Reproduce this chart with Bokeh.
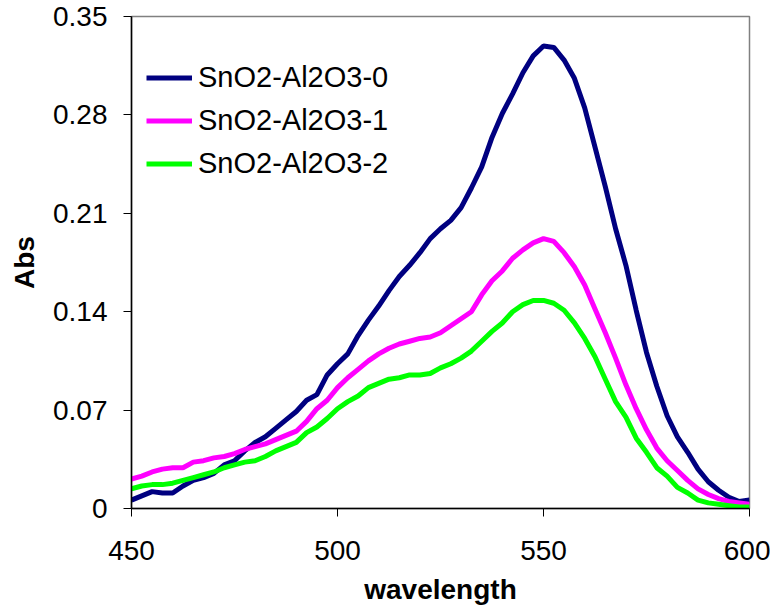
from bokeh.plotting import figure
from bokeh.models import Range1d, FixedTicker, Legend, LegendItem
from bokeh.embed import file_html
from bokeh.resources import INLINE

wavelength = [450, 452.5, 455, 457.5, 460, 462.5, 465, 467.5, 470, 472.5,
              475, 477.5, 480, 482.5, 485, 487.5, 490, 492.5, 495, 497.5,
              500, 502.5, 505, 507.5, 510, 512.5, 515, 517.5, 520, 522.5,
              525, 527.5, 530, 532.5, 535, 537.5, 540, 542.5, 545, 547.5,
              550, 552.5, 555, 557.5, 560, 562.5, 565, 567.5, 570, 572.5,
              575, 577.5, 580, 582.5, 585, 587.5, 590, 592.5, 595, 597.5, 600]

abs_0 = [0.006, 0.009, 0.012, 0.011, 0.011, 0.016, 0.020, 0.022, 0.025, 0.031,
         0.034, 0.041, 0.047, 0.051, 0.057, 0.063, 0.069, 0.077, 0.081, 0.095,
         0.103, 0.110, 0.123, 0.134, 0.144, 0.155, 0.165, 0.173, 0.182, 0.192,
         0.199, 0.205, 0.214, 0.228, 0.243, 0.264, 0.281, 0.295, 0.310, 0.322,
         0.329, 0.328, 0.319, 0.306, 0.285, 0.257, 0.229, 0.199, 0.173, 0.141,
         0.111, 0.087, 0.066, 0.051, 0.040, 0.028, 0.019, 0.013, 0.008, 0.005, 0.006]

abs_1 = [0.021, 0.023, 0.026, 0.028, 0.029, 0.029, 0.033, 0.034, 0.036, 0.037,
         0.039, 0.042, 0.044, 0.046, 0.049, 0.052, 0.055, 0.062, 0.071, 0.077,
         0.086, 0.093, 0.099, 0.105, 0.110, 0.114, 0.117, 0.119, 0.121, 0.122,
         0.125, 0.130, 0.135, 0.140, 0.152, 0.162, 0.169, 0.178, 0.184, 0.189,
         0.192, 0.190, 0.182, 0.172, 0.159, 0.142, 0.125, 0.107, 0.088, 0.071,
         0.056, 0.043, 0.034, 0.027, 0.020, 0.014, 0.010, 0.007, 0.005, 0.004, 0.003]

abs_2 = [0.014, 0.016, 0.017, 0.017, 0.018, 0.020, 0.022, 0.024, 0.026, 0.029,
         0.031, 0.033, 0.034, 0.037, 0.041, 0.044, 0.047, 0.054, 0.058, 0.064,
         0.071, 0.076, 0.080, 0.086, 0.089, 0.092, 0.093, 0.095, 0.095, 0.096,
         0.100, 0.103, 0.107, 0.112, 0.119, 0.126, 0.132, 0.140, 0.145, 0.148,
         0.148, 0.146, 0.141, 0.132, 0.121, 0.108, 0.092, 0.076, 0.065, 0.050,
         0.040, 0.029, 0.023, 0.015, 0.011, 0.006, 0.004, 0.003, 0.002, 0.001, 0.001]

series_names = ["SnO2-Al2O3-0", "SnO2-Al2O3-1", "SnO2-Al2O3-2"]
series_colors = ["#000080", "#FF00FF", "#00FF00"]

x_ticks = [450, 500, 550, 600]
y_ticks = [0, 0.07, 0.14, 0.21, 0.28, 0.35]
y_tick_labels = ["0", "0.07", "0.14", "0.21", "0.28", "0.35"]

FONT = "Liberation Sans"

p = figure(output_backend="svg", toolbar_location=None,
           frame_width=618, frame_height=492,
           min_border_left=131, min_border_right=21,
           min_border_top=16, min_border_bottom=90,
           x_range=Range1d(450, 600), y_range=Range1d(0, 0.35))

p.background_fill_color = "white"
p.border_fill_color = "white"
p.outline_line_color = "#808080"
p.outline_line_width = 1.5
p.xgrid.visible = False
p.ygrid.visible = False

renderers = []
for ys, c in zip([abs_0, abs_1, abs_2], series_colors):
    r = p.line(wavelength, ys, line_color=c, line_width=5)
    renderers.append(r)

for ax in (p.xaxis[0], p.yaxis[0]):
    ax.axis_line_color = "black"
    ax.axis_line_width = 1.5
    ax.major_tick_line_color = "black"
    ax.major_tick_line_width = 1
    ax.major_tick_in = 0
    ax.major_tick_out = 8
    ax.minor_tick_line_color = None
    ax.major_label_text_font = FONT
    ax.major_label_text_font_size = "28px"
    ax.major_label_text_color = "black"
    ax.axis_label_text_font = FONT
    ax.axis_label_text_font_size = "28px"
    ax.axis_label_text_font_style = "bold"
    ax.axis_label_text_color = "black"

p.xaxis[0].ticker = FixedTicker(ticks=x_ticks)
p.xaxis[0].major_label_overrides = {t: str(t) for t in x_ticks}
p.xaxis[0].axis_label = "wavelength"
p.xaxis[0].major_label_standoff = 24
p.xaxis[0].axis_label_standoff = 11

p.yaxis[0].ticker = FixedTicker(ticks=y_ticks)
p.yaxis[0].major_label_overrides = dict(zip(y_ticks, y_tick_labels))
p.yaxis[0].axis_label = "Abs"
p.yaxis[0].major_label_standoff = 16
p.yaxis[0].axis_label_standoff = 10

legend = Legend(items=[LegendItem(label=n, renderers=[r]) for n, r in zip(series_names, renderers)],
                location=(15, 326), orientation="vertical",
                label_text_font=FONT, label_text_font_size="29px",
                label_text_color="black",
                glyph_width=46, glyph_height=37, label_height=37,
                label_standoff=6, spacing=6, padding=0, margin=0,
                border_line_color=None, background_fill_alpha=0)
p.add_layout(legend)

open("out.html", "w").write(file_html(p, INLINE))
